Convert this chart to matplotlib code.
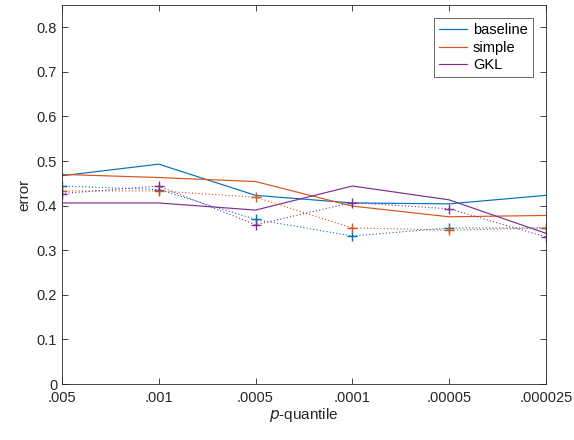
import matplotlib
matplotlib.use('Agg')
import matplotlib.pyplot as plt
import numpy as np

plt.rcParams['font.family'] = ['Liberation Sans', 'DejaVu Sans']

quantiles = ['.005', '.001', '.0005', '.0001', '.00005', '.000025']

# solid lines
baseline = [0.467, 0.493, 0.423, 0.406, 0.404, 0.423]
simple = [0.470, 0.463, 0.454, 0.399, 0.375, 0.378]
gkl = [0.406, 0.406, 0.390, 0.444, 0.413, 0.338]

# dotted lines with + markers
baseline_dot = [0.444, 0.436, 0.369, 0.332, 0.350, 0.350]
simple_dot = [0.433, 0.433, 0.419, 0.350, 0.345, 0.350]
gkl_dot = [0.427, 0.444, 0.357, 0.407, 0.393, 0.330]

colors = ['#0072BD', '#D95319', '#7E2F8E']
x = np.arange(len(quantiles))

fig = plt.figure(figsize=(5.74, 4.4), dpi=100)
ax = fig.add_axes([0.108, 0.127, 0.843, 0.862])

for y, c, lab in zip([baseline, simple, gkl], colors, ['baseline', 'simple', 'GKL']):
    ax.plot(x, y, color=c, lw=0.85, label=lab)
for y, c in zip([baseline_dot, simple_dot, gkl_dot], colors):
    ax.plot(x, y, color=c, lw=0.8, ls=(0, (1, 2)), marker='+', ms=6.5, mew=1.0)

ax.set_xlim(0, len(quantiles) - 1)
ax.set_ylim(0, 0.85)
ax.set_xticks(x)
ax.set_xticklabels(quantiles)
ax.set_yticks(np.arange(0, 0.81, 0.1))
ax.set_yticklabels(['0', '0.1', '0.2', '0.3', '0.4', '0.5', '0.6', '0.7', '0.8'])
ax.tick_params(direction='in', top=True, right=True, labelsize=10.5,
               colors='#262626', length=4, width=0.6)
ax.tick_params(axis='x', pad=5)
for s in ax.spines.values():
    s.set_color('#262626')
    s.set_linewidth(0.6)

ax.set_xlabel('$p$-quantile', fontsize=11, color='#262626', labelpad=1)
ax.set_ylabel('error', fontsize=11, color='#262626', labelpad=4)

leg = ax.legend(loc='upper right', fontsize=10.5, handlelength=1.9,
                handletextpad=0.4, borderaxespad=0.9, fancybox=False,
                labelspacing=0.25, borderpad=0.35)
leg.get_frame().set_edgecolor('#262626')
leg.get_frame().set_linewidth(0.6)

fig.savefig('out.png', dpi=100)
